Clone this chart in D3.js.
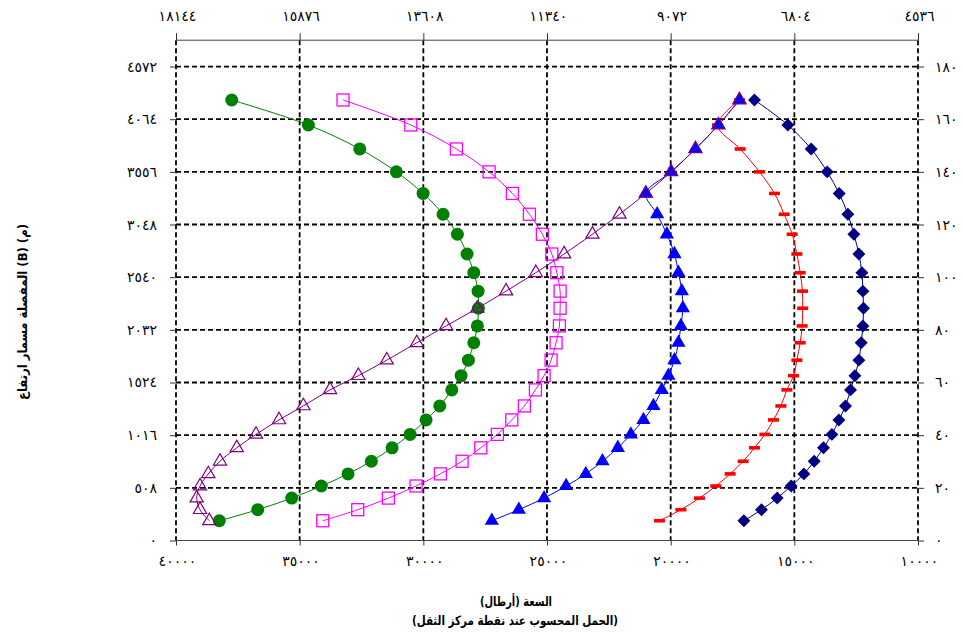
<!DOCTYPE html>
<html><head><meta charset="utf-8">
<script src="https://cdn.jsdelivr.net/npm/d3@7"></script>
<style>
body{margin:0;background:#fff}
text{font-family:"DejaVu Sans",sans-serif}
</style>
</head><body>
<svg id="c" width="963" height="634"></svg>
<script>
// ---- data ----
const heights = [167.3,157.8,148.7,140.0,131.8,123.9,116.3,108.8,101.7,94.7,88.2,81.5,75.1,68.5,62.6,57.2,51.1,45.8,40.3,35.2,30.1,25.3,20.7,16.1,11.7,7.5];
const greenCircles = [37747,34649,32571,31090,30010,29202,28623,28231,27960,27786,27774,27814,27960,28178,28474,28850,29335,29889,30536,31264,32101,33044,34124,35321,36696,38249];
const magentaSquares = [33246,30508,28664,27341,26399,25711,25186,24806,24603,24470,24470,24498,24632,24834,25117,25469,25914,26423,27006,27677,28433,29311,30294,31414,32652,34067];
const purpleTriangles = [17218,18068,18998,19981,21004,22071,23164,24308,25453,26654,27815,29080,30265,31479,32627,33772,34852,35834,36765,37545,38221,38694,39029,39163,39029,38653];
const blueTriangles = [17218,18068,18998,19981,21004,20547,20154,19847,19685,19548,19507,19588,19685,19847,20090,20357,20696,21101,21610,22136,22759,23430,24227,25117,26140,27232];
const redDashes = [17218,18108,17190,16410,15803,15411,15087,14897,14764,14671,14663,14683,14764,14897,15034,15301,15544,15843,16191,16612,17069,17595,18173,18836,19588,20454];
const navyDiamonds = [16612,15261,14319,13672,13186,12835,12592,12390,12268,12228,12204,12228,12297,12390,12551,12729,12931,13198,13481,13821,14197,14614,15128,15694,16329,17040];

const bottomTicks = [40000,35000,30000,25000,20000,15000,10000];
const bottomLabels = ["٤٠٠٠٠","٣٥٠٠٠","٣٠٠٠٠","٢٥٠٠٠","٢٠٠٠٠","١٥٠٠٠","١٠٠٠٠"];
const topTicks = [18144,15876,13608,11340,9072,6804,4536];
const topLabels = ["١٨١٤٤","١٥٨٧٦","١٣٦٠٨","١١٣٤٠","٩٠٧٢","٦٨٠٤","٤٥٣٦"];
const leftTicks = [0,508,1016,1524,2032,2540,3048,3556,4064,4572];
const leftLabels = ["٠","٥٠٨","١٠١٦","١٥٢٤","٢٠٣٢","٢٥٤٠","٣٠٤٨","٣٥٥٦","٤٠٦٤","٤٥٧٢"];
const rightTicks = [0,20,40,60,80,100,120,140,160,180];
const rightLabels = ["٠","٢٠","٤٠","٦٠","٨٠","١٠٠","١٢٠","١٤٠","١٦٠","١٨٠"];

const xTitle1 = "السعة (أرطال)";
const xTitle2 = "(الحمل المحسوب عند نقطة مركز الثقل)";
const yTitle = "(م) (B) المفصلة مسمار ارتفاع";

// ---- layout ----
const L = 176, R = 918, T = 40.2, B = 540.5;
const svg = d3.select("#c");
const x = d3.scaleLinear().domain([40000,10000]).range([L,R]);
const xTop = d3.scaleLinear().domain([18144,4536]).range([L,R]);
const y = d3.scaleLinear().domain([0,190]).range([B,T]);
const yLeft = d3.scaleLinear().domain([0,4826]).range([B,T]);

// grid
const grid = svg.append("g").attr("stroke","#000").attr("stroke-width",1.8).attr("stroke-dasharray","5,3");
grid.selectAll("line.v").data(bottomTicks).join("line")
  .attr("x1",d=>x(d)).attr("x2",d=>x(d)).attr("y1",T).attr("y2",B);
grid.selectAll("line.h").data(rightTicks.filter(d=>d>0)).join("line")
  .attr("x1",L).attr("x2",R).attr("y1",d=>y(d)).attr("y2",d=>y(d));

// frame top/bottom solid
svg.append("line").attr("x1",L).attr("x2",R).attr("y1",T).attr("y2",T).attr("stroke","#444").attr("stroke-width",1);
svg.append("line").attr("x1",L).attr("x2",R).attr("y1",B).attr("y2",B).attr("stroke","#444").attr("stroke-width",1);

function styleAxis(g){
  g.select(".domain").remove();
  g.selectAll(".tick line").attr("stroke","#333").attr("stroke-width",1);
  g.selectAll(".tick text").attr("font-size",14).attr("fill","#000")
    .attr("font-family","DejaVu Sans, sans-serif").attr("letter-spacing","1.8px");
}
svg.append("g").attr("transform",`translate(0,${B})`)
  .call(d3.axisBottom(x).tickValues(bottomTicks).tickFormat((d,i)=>bottomLabels[i]).tickSize(5).tickPadding(11))
  .call(styleAxis).selectAll(".tick text").attr("dx","0.9");
svg.append("g").attr("transform",`translate(0,${T})`)
  .call(d3.axisTop(xTop).tickValues(topTicks).tickFormat((d,i)=>topLabels[i]).tickSize(7).tickPadding(12))
  .call(styleAxis).selectAll(".tick text").attr("dx","0.9");
svg.append("g").attr("transform",`translate(${L},0)`)
  .call(d3.axisLeft(yLeft).tickValues(leftTicks).tickFormat((d,i)=>leftLabels[i]).tickSize(6).tickPadding(13))
  .call(styleAxis);
svg.append("g").attr("transform",`translate(${R},0)`)
  .call(d3.axisRight(y).tickValues(rightTicks).tickFormat((d,i)=>rightLabels[i]).tickSize(6).tickPadding(11))
  .call(styleAxis);

// series
const line = d3.line().x(d=>x(d[0])).y(d=>y(d[1])).curve(d3.curveCatmullRom.alpha(0.5));
const series = [
  {vals:greenCircles, color:"#008000", type:"circle"},
  {vals:magentaSquares, color:"#FF00FF", type:"square"},
  {vals:navyDiamonds, color:"#000080", type:"diamond"},
  {vals:redDashes, color:"#FF0000", type:"dash"},
  {vals:blueTriangles, color:"#0000FF", type:"tri"},
  {vals:purpleTriangles, color:"#800080", type:"otri"}
];
series.forEach(s=>{
  const pts = s.vals.map((v,i)=>[v,heights[i]]);
  const g = svg.append("g");
  g.append("path").attr("d",line(pts)).attr("fill","none").attr("stroke",s.color).attr("stroke-width",1);
  const m = g.selectAll("g.m").data(pts).join("g").attr("transform",d=>`translate(${x(d[0])},${y(d[1])})`);
  if(s.type==="circle"){
    m.append("circle").attr("r",6.5).attr("fill",s.color);
  } else if(s.type==="square"){
    m.append("rect").attr("x",-6).attr("y",-6).attr("width",12).attr("height",12).attr("fill","none").attr("stroke",s.color).attr("stroke-width",1.3);
  } else if(s.type==="diamond"){
    m.append("path").attr("d",d3.symbol(d3.symbolSquare,84)()).attr("transform","rotate(45)").attr("fill",s.color);
  } else if(s.type==="dash"){
    m.append("rect").attr("x",-5.5).attr("y",-1.8).attr("width",11).attr("height",3.6).attr("fill",s.color);
  } else if(s.type==="tri"){
    m.append("path").attr("d",d3.symbol(d3.symbolTriangle,88)()).attr("fill",s.color);
  } else {
    m.append("path").attr("d",d3.symbol(d3.symbolTriangle,76)()).attr("fill","none").attr("stroke",s.color).attr("stroke-width",1.2);
  }
});

// titles
function title(t, tx, ty, len, rot){
  const el = svg.append("text").attr("text-anchor","middle").attr("font-size",13)
    .attr("font-weight","bold").attr("direction","rtl")
    .attr("textLength",len).attr("lengthAdjust","spacingAndGlyphs").text(t);
  if(rot) el.attr("transform",`translate(${tx},${ty}) rotate(-90)`);
  else el.attr("x",tx).attr("y",ty);
}
title(xTitle1, 516, 606, 72, false);
title(xTitle2, 515, 624.5, 206, false);
title(yTitle, 27, 312, 176, true);
</script>
</body></html>
